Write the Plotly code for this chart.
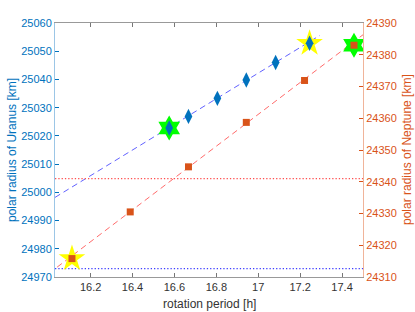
import plotly.graph_objects as go

# Uranus data (left axis)
uranus_period = [16.575, 16.667, 16.805, 16.943, 17.083, 17.245]
uranus_radius = [25022.8, 25026.9, 25033.3, 25039.8, 25046.0, 25052.8]
# Neptune data (right axis)
neptune_period = [16.111, 16.389, 16.667, 16.943, 17.221, 17.457]
neptune_radius = [24315.8, 24330.5, 24344.7, 24358.7, 24371.9, 24383.0]
# fit lines
uranus_fit_x = [16.03, 17.294]
uranus_fit_y = [24998.2, 25055.6]
neptune_fit_x = [16.04, 17.5]
neptune_fit_y = [24313.1, 24386.3]
# reference polar radii
uranus_ref = 24973
neptune_ref = 24341
# highlighted points
green_u = (16.575, 25022.8)
yellow_u = (17.245, 25052.8)
green_n = (17.457, 24383.0)
yellow_n = (16.111, 24315.8)

xr = [16.03, 17.5]
BLUE = "#0072BD"
ORANGE = "#D95319"

fig = go.Figure()
# fit lines
fig.add_trace(go.Scatter(x=uranus_fit_x, y=uranus_fit_y, mode="lines",
                         line=dict(color="rgba(80,80,255,0.9)", width=1, dash="6px,4px"),
                         yaxis="y", showlegend=False))
fig.add_trace(go.Scatter(x=neptune_fit_x, y=neptune_fit_y, mode="lines",
                         line=dict(color="rgba(255,90,90,0.9)", width=1, dash="6px,4px"),
                         yaxis="y2", showlegend=False))
# reference lines
fig.add_trace(go.Scatter(x=xr, y=[uranus_ref, uranus_ref], mode="lines",
                         line=dict(color="#4040ff", width=1.3, dash="1.3px,2px"),
                         yaxis="y", showlegend=False))
fig.add_trace(go.Scatter(x=xr, y=[neptune_ref, neptune_ref], mode="lines",
                         line=dict(color="#ff5050", width=1.3, dash="1.3px,2px"),
                         yaxis="y2", showlegend=False))
# stars
fig.add_trace(go.Scatter(x=[green_u[0]], y=[green_u[1]], mode="markers",
                         marker=dict(symbol="hexagram", size=19, color="#00ff00", line=dict(width=0)),
                         yaxis="y", showlegend=False))
fig.add_trace(go.Scatter(x=[yellow_u[0]], y=[yellow_u[1]], mode="markers",
                         marker=dict(symbol="star", size=20, color="#ffff00", line=dict(width=0)),
                         yaxis="y", showlegend=False))
fig.add_trace(go.Scatter(x=[green_n[0]], y=[green_n[1]], mode="markers",
                         marker=dict(symbol="hexagram", size=19, color="#00ff00", line=dict(width=0)),
                         yaxis="y2", showlegend=False))
fig.add_trace(go.Scatter(x=[yellow_n[0]], y=[yellow_n[1]], mode="markers",
                         marker=dict(symbol="star", size=20, color="#ffff00", line=dict(width=0)),
                         yaxis="y2", showlegend=False))
# data markers
fig.add_trace(go.Scatter(x=uranus_period, y=uranus_radius, mode="markers",
                         marker=dict(symbol="diamond-tall", size=11, color=BLUE, line=dict(width=0)),
                         yaxis="y", showlegend=False))
fig.add_trace(go.Scatter(x=neptune_period, y=neptune_radius, mode="markers",
                         marker=dict(symbol="square", size=7, color=ORANGE, line=dict(width=0)),
                         yaxis="y2", showlegend=False))

font = "Liberation Sans, Arial, sans-serif"
fig.update_layout(
    width=415, height=312,
    margin=dict(l=55, r=52, t=23, b=35),
    paper_bgcolor="white", plot_bgcolor="white",
    font=dict(family=font, size=11),
    xaxis=dict(range=xr, tickvals=[16.2, 16.4, 16.6, 16.8, 17, 17.2, 17.4],
               ticktext=["16.2", "16.4", "16.6", "16.8", "17", "17.2", "17.4"],
               ticks="inside", ticklen=4, tickcolor="#777", showgrid=False, zeroline=False,
               showline=True, linecolor="#999", linewidth=1, mirror="ticks", automargin=False,
               tickfont=dict(color="#333", size=11)),
    yaxis=dict(range=[24970, 25060], dtick=10, ticks="inside", ticklen=4,
               tickcolor=BLUE, showgrid=False, zeroline=False, automargin=False,
               showline=True, linecolor="#9cc6e6", linewidth=1,
               tickfont=dict(color=BLUE, size=11), tickformat="d"),
    yaxis2=dict(range=[24310, 24390], dtick=10, overlaying="y", side="right",
                ticks="inside", ticklen=4, tickcolor=ORANGE, showgrid=False, zeroline=False,
                showline=True, linecolor="#f0b49a", linewidth=1, automargin=False,
                tickfont=dict(color=ORANGE, size=11), tickformat="d"),
    annotations=[
        dict(text="rotation period [h]", xref="paper", yref="paper", x=0.5, y=0,
             xanchor="center", yanchor="middle", yshift=-27, showarrow=False,
             font=dict(color="#333", size=12)),
        dict(text="polar radius of Uranus [km]", xref="paper", yref="paper", x=0, y=0.5,
             xanchor="center", yanchor="middle", xshift=-43, textangle=-90, showarrow=False,
             font=dict(color=BLUE, size=12)),
        dict(text="polar radius of Neptune [km]", xref="paper", yref="paper", x=1, y=0.5,
             xanchor="center", yanchor="middle", xshift=44, textangle=-90, showarrow=False,
             font=dict(color=ORANGE, size=12)),
    ],
)
fig.write_html("out.html", config={"displayModeBar": False},
               post_script="document.body.style.margin='0';")
